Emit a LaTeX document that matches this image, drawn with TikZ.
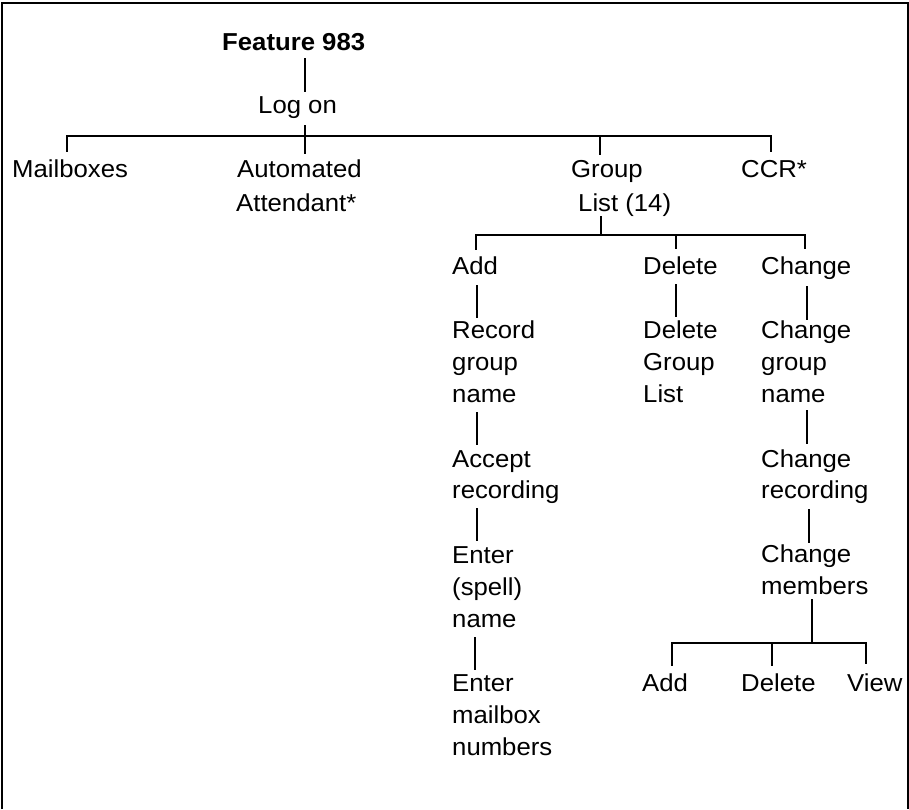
\documentclass[tikz,border=0pt]{standalone}
\usepackage{fontspec}
\setmainfont{Liberation Sans}[FakeStretch=1.05]
\newcommand\mlines[2][32]{\vtop{\baselineskip=#1pt\lineskiplimit=-100pt\lineskip=0pt #2}}
\tikzset{
  lbl/.style={anchor=base west, inner sep=0pt, font=\fontsize{24.5}{32}\selectfont},
  conn/.style={line width=1.1pt, line cap=rect},
  frame/.style={line width=1.5pt}
}
\begin{document}
\begin{tikzpicture}[x=1pt,y=-1pt]
\useasboundingbox (0,0) rectangle (909,809);
% frame
\draw[frame] (2,809) -- (2,3) -- (908,3) -- (908,809);
% texts
\node[lbl,font=\fontsize{24.5}{32}\selectfont\bfseries] (feat) at (222,50) {Feature 983};
\node[lbl] (logon) at (258,113) {Log on};
\node[lbl] (mail) at (12,177) {Mailboxes};
\node[lbl] (auto) at (237,177) {\mlines[34]{\hbox{Automated}\hbox{\kern-1pt Attendant*}}};
\node[lbl] (group) at (571,177) {\mlines[34]{\hbox{Group}\hbox{\kern7pt List (14)}}};
\node[lbl] (ccr) at (741,177) {CCR*};
\node[lbl] (add) at (452,274) {Add};
\node[lbl] (del) at (643,274) {Delete};
\node[lbl] (chg) at (761,274) {Change};
\node[lbl] (rec) at (452,338) {\mlines{\hbox{Record}\hbox{group}\hbox{name}}};
\node[lbl] (delgl) at (643,338) {\mlines{\hbox{Delete}\hbox{Group}\hbox{List}}};
\node[lbl] (chgn) at (761,338) {\mlines{\hbox{Change}\hbox{group}\hbox{name}}};
\node[lbl] (acc) at (452,467) {\mlines[31]{\hbox{Accept}\hbox{recording}}};
\node[lbl] (chrec) at (761,467) {\mlines[31]{\hbox{Change}\hbox{recording}}};
\node[lbl] (ent) at (452,563) {\mlines{\hbox{Enter}\hbox{(spell)}\hbox{name}}};
\node[lbl] (chmem) at (761,562) {\mlines{\hbox{Change}\hbox{members}}};
\node[lbl] (entmb) at (452,691) {\mlines{\hbox{Enter}\hbox{mailbox}\hbox{numbers}}};
\node[lbl] (madd) at (642,691) {Add};
\node[lbl] (mdel) at (741,691) {Delete};
\node[lbl] (view) at (847,691) {View};
% connector ends
\coordinate (featB) at (305,59);  \coordinate (logonT) at (305,91);
\coordinate (logonB) at (305,126); \coordinate (autoT) at (305,153);
\coordinate (mailT) at (67,151);  \coordinate (mailJ) at (67,136);
\coordinate (groupT) at (600,154); \coordinate (groupJ) at (600,136);
\coordinate (ccrT) at (771,151);  \coordinate (ccrJ) at (771,136);
\coordinate (groupB) at (601,217); \coordinate (glJ) at (601,235);
\coordinate (addJ) at (476,235);  \coordinate (addT) at (476,249);
\coordinate (delJ) at (676,235);  \coordinate (delT) at (676,248);
\coordinate (chgJ) at (805,235);  \coordinate (chgT) at (805,248);
\coordinate (addB) at (477,286);  \coordinate (recT) at (477,317);
\coordinate (recB) at (477,413);  \coordinate (accT) at (477,444);
\coordinate (accB) at (477,509);  \coordinate (entT) at (477,540);
\coordinate (entB) at (475,638);  \coordinate (entmbT) at (475,669);
\coordinate (delB) at (676,285);  \coordinate (delglT) at (676,316);
\coordinate (chgB) at (807,287);  \coordinate (chgnT) at (807,319);
\coordinate (chgnB) at (807,411); \coordinate (chrecT) at (807,443);
\coordinate (chrecB) at (809,510); \coordinate (chmemT) at (809,542);
\coordinate (chmemB) at (812,600); \coordinate (cmJ) at (812,643);
\coordinate (maddJ) at (672,643); \coordinate (maddT) at (672,665);
\coordinate (mdelJ) at (772,643); \coordinate (mdelT) at (772,665);
\coordinate (viewJ) at (866,643); \coordinate (viewT) at (866,663);
% connectors
\draw[conn] (featB) -- (logonT);
\draw[conn] (logonB) -- (autoT);
\draw[conn] (mailT) -- (mailJ) -- (ccrJ) -- (ccrT);
\draw[conn] (groupJ) -- (groupT);
\draw[conn] (groupB) -- (glJ);
\draw[conn] (addT) -- (addJ) -- (chgJ) -- (chgT);
\draw[conn] (delJ) -- (delT);
\draw[conn] (addB) -- (recT);
\draw[conn] (recB) -- (accT);
\draw[conn] (accB) -- (entT);
\draw[conn] (entB) -- (entmbT);
\draw[conn] (delB) -- (delglT);
\draw[conn] (chgB) -- (chgnT);
\draw[conn] (chgnB) -- (chrecT);
\draw[conn] (chrecB) -- (chmemT);
\draw[conn] (chmemB) -- (cmJ);
\draw[conn] (maddT) -- (maddJ) -- (viewJ) -- (viewT);
\draw[conn] (mdelJ) -- (mdelT);
\end{tikzpicture}
\end{document}
